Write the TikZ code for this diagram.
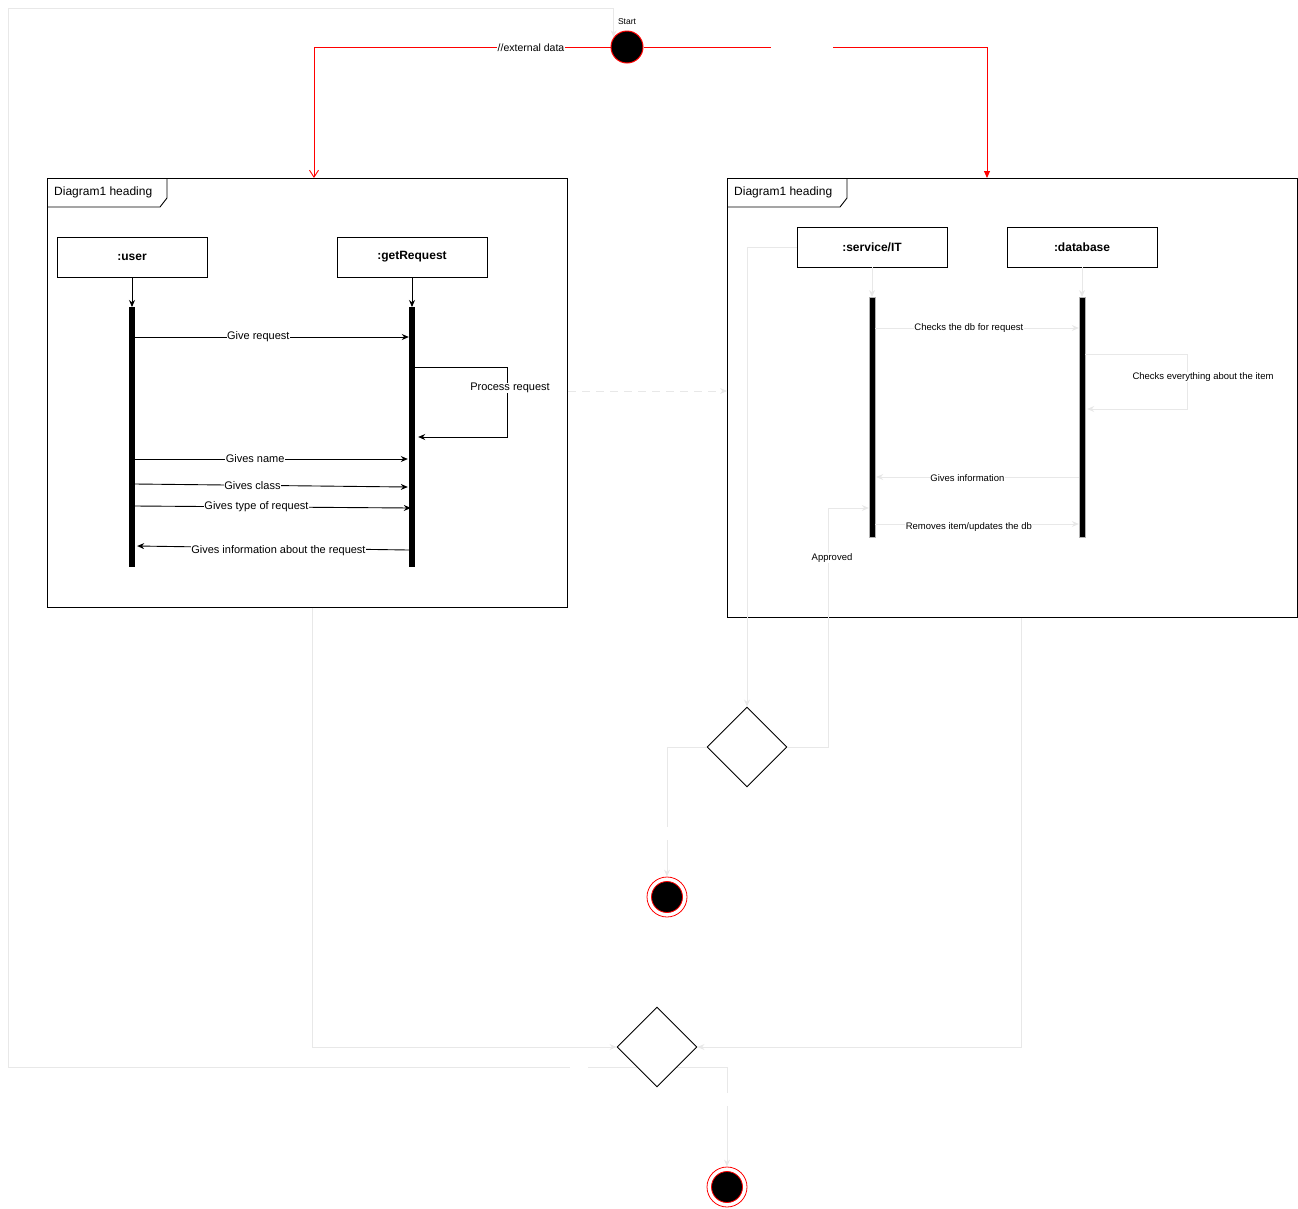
\documentclass[tikz,border=0pt]{standalone}
\usepackage{fontspec}
\setmainfont{Liberation Sans}
\usetikzlibrary{arrows.meta,shapes.geometric,calc}
\definecolor{faint}{RGB}{232,232,232}
\definecolor{rd}{RGB}{255,0,0}
\begin{document}
\begin{tikzpicture}[x=1pt,y=-1pt,
  >={Stealth[length=7pt,width=6pt]},
  frame/.style={draw, line width=0.9pt, inner sep=0pt, anchor=north west},
  tabtxt/.style={anchor=west, inner sep=0pt, font=\fontsize{12}{14}\selectfont},
  lifebox/.style={draw, line width=0.9pt, minimum width=150pt, minimum height=40pt, inner sep=0pt, font=\bfseries\fontsize{12}{14}\selectfont},
  bar/.style={fill=black, minimum width=6pt, inner sep=0pt, anchor=north},
  msg/.style={line width=0.9pt, ->},
  fmsg/.style={faint, line width=0.9pt, ->},
  lbl/.style={fill=white, inner sep=0.5pt, font=\fontsize{11}{13}\selectfont},
  slbl/.style={fill=white, inner sep=0.5pt, font=\fontsize{9.5}{11}\selectfont},
  dec/.style={diamond, draw, line width=0.9pt, minimum width=80pt, minimum height=80pt, inner sep=0pt, fill=white},
  gap/.style={fill=white, inner sep=0pt}
]
\useasboundingbox (0,0) rectangle (1298,1208);

% y-levels
\foreach \v in {8,47,328,337,354,367,377,391,409,437,459,477,484,487,506,508,524,546,550,1067}
  \coordinate (y\v) at (0,\v);

% ---------- frames ----------
\node[frame, minimum width=520pt, minimum height=429pt] (F1) at (47,178) {};
\draw[line width=0.9pt] (47,207) -- (160,207) -- (167,198) -- (167,178);
\node[tabtxt] (F1t) at (54,192) {Diagram1 heading};

\node[frame, minimum width=570pt, minimum height=439pt] (F2) at (727,178) {};
\draw[line width=0.9pt] (727,207) -- (840,207) -- (847,198) -- (847,178);
\node[tabtxt] (F2t) at (734,192) {Diagram1 heading};

% ---------- start / ends ----------
\node[circle, fill=black, draw=rd, line width=1pt, minimum size=32pt, inner sep=0pt] (start) at (627,47) {};
\node[font=\fontsize{8.5}{10}\selectfont, inner sep=0pt] (startlbl) at (627,22) {Start};

\node[circle, draw=rd, fill=white, line width=0.8pt, minimum size=40pt, inner sep=0pt] (end1) at (667,897) {};
\node[circle, draw=rd, fill=black, line width=0.8pt, minimum size=31pt, inner sep=0pt] (end1in) at (667,897) {};
\node[circle, draw=rd, fill=white, line width=0.8pt, minimum size=40pt, inner sep=0pt] (end3) at (727,1187) {};
\node[circle, draw=rd, fill=black, line width=0.8pt, minimum size=31pt, inner sep=0pt] (end3in) at (727,1187) {};

% outer loop (drawn before the diamonds so they cover it)
\coordinate (L1) at (8,8);
\coordinate (L2) at (8,1067);
\coordinate (L3) at (727,1067);
\draw[faint, line width=0.9pt, <->] (start.144) -- (start.144 |- y8) -- (L1) -- (L2) -- (L3) -- (end3.north);
\node[gap, minimum width=18pt, minimum height=4pt] (gapL1) at (579,1067) {};
\node[gap, minimum width=4pt, minimum height=13pt] (gapL2) at (727,1099.5) {};

% ---------- decisions ----------
\node[dec] (D1) at (747,747) {};
\node[dec] (D2) at (657,1047) {};

% ---------- left sequence ----------
\node[lifebox] (ubox) at (132,257) {:user};
\node[lifebox] (gbox) at (412,257) {:getRequest};
\node[bar, minimum height=260pt] (ubar) at (132,307) {};
\node[bar, minimum height=260pt] (gbar) at (412,307) {};
\draw[msg] (ubox.south) -- (ubar.north);
\draw[msg] (gbox.south) -- (gbar.north);

\draw[msg] (ubar.east |- y337) -- node[lbl, pos=0.45] {Give request} (gbar.west |- y337);
\draw[msg] (gbar.east |- y367) -- (507,367) -- (507,437) -- ($(gbar.east |- y437)+(3,0)$);
\node[lbl] (proclbl) at (510,388) {Process request};
\draw[msg] (ubar.east |- y459) -- node[lbl, pos=0.44] {Gives name} ($(gbar.west |- y459)+(-1,0)$);
\draw[msg] (ubar.east |- y484) -- node[lbl, pos=0.43] {Gives class} ($(gbar.west |- y487)+(-1,0)$);
\draw[msg] (ubar.east |- y506) -- node[lbl, pos=0.44] {Gives type of request} ($(gbar.west |- y508)+(2,0)$);
\draw[msg] (gbar.west |- y550) -- node[lbl, pos=0.48, yshift=-3pt] {Gives information about the request} ($(ubar.east |- y546)+(2,0)$);

% ---------- right sequence ----------
\node[lifebox] (sbox) at (872,247) {:service/IT};
\node[lifebox] (dbox) at (1082,247) {:database};
\node[bar, draw=gray!60, line width=0.4pt, minimum height=240pt] (sbar) at (872,297) {};
\node[bar, draw=gray!60, line width=0.4pt, minimum height=240pt] (dbar) at (1082,297) {};
\draw[fmsg] (sbox.south) -- (sbar.north);
\draw[fmsg] (dbox.south) -- (dbar.north);

\draw[fmsg] (sbar.east |- y328) -- node[slbl, text=black, pos=0.46] {Checks the db for request} (dbar.west |- y328);
\draw[fmsg] (dbar.east |- y354) -- (1187,354) -- (1187,409) -- ($(dbar.east |- y409)+(2,0)$);
\node[slbl] (chklbl) at (1203,377) {Checks everything about the item};
\draw[fmsg] (dbar.west |- y477) -- node[slbl, text=black, pos=0.55, yshift=-1pt] {Gives information} ($(sbar.east |- y477)+(1,0)$);
\draw[fmsg] (sbar.east |- y524) -- node[slbl, text=black, pos=0.46, yshift=-3pt] {Removes item/updates the db} (dbar.west |- y524);

% ---------- flow connectors ----------
\draw[rd, line width=0.9pt, -{Straight Barb[length=7pt,width=9pt]}] (start.west) -- (314,47) -- (F1.north west -| 314,0);
\node[lbl, font=\fontsize{10.5}{12}\selectfont] (extlbl) at (531,48) {//external data};
\draw[rd, line width=0.9pt, -{Triangle[length=7pt,width=6pt]}] (start.east) -- (987,47) -- (F2.north west -| 987,0);
\node[gap, minimum width=62pt, minimum height=4pt] (gapR) at (802,47) {};

\draw[faint, line width=0.9pt, dashed, dash pattern=on 8pt off 6pt, ->] (F1.east |- y391) -- (F2.west |- y391);

\draw[fmsg] ($(F1.south)+(5,0)$) |- (D2.west);
\draw[fmsg] ($(F2.south)+(9,0)$) |- (D2.east);

\draw[fmsg] (sbox.west) -| (D1.north);
\draw[fmsg] (D1.east) -- (828,747) -- (828,508) -- (sbar.west |- y508);
\node[slbl] (applbl) at (832,558) {Approved};
\draw[fmsg] (D1.west) -| (end1.north);
\node[gap, minimum width=4pt, minimum height=13pt] (gapE1) at (667,833.5) {};
\end{tikzpicture}
\end{document}
